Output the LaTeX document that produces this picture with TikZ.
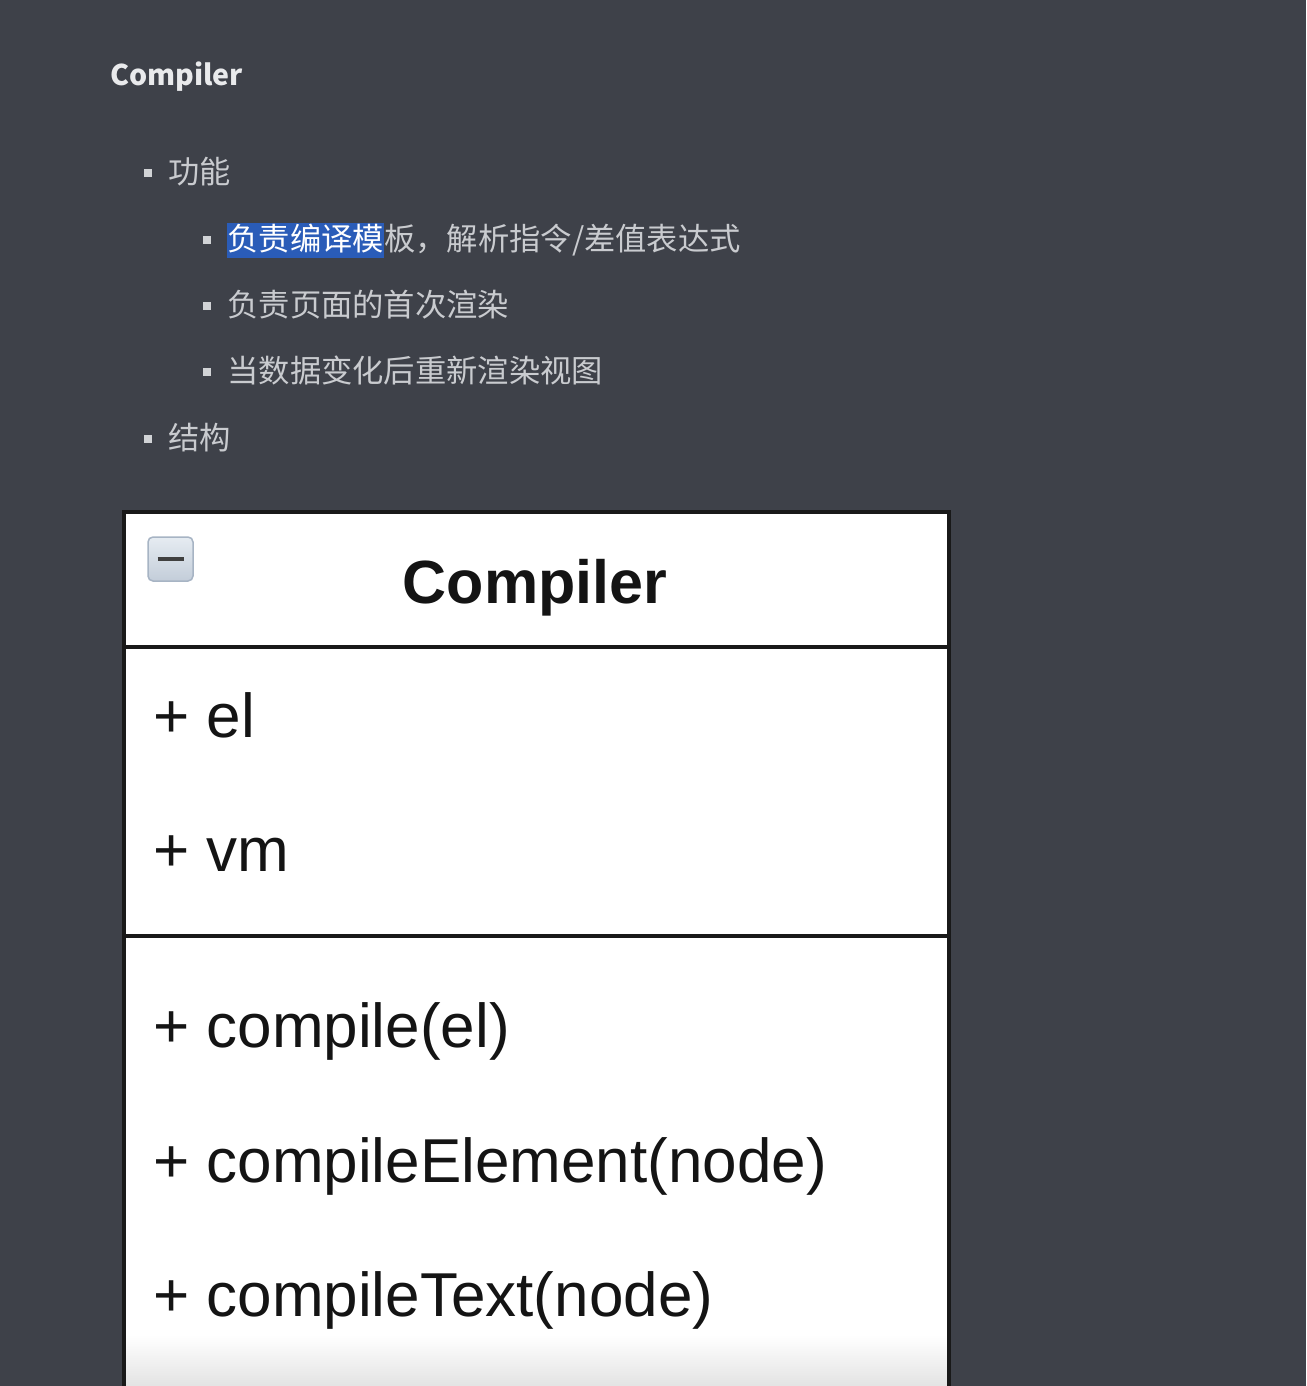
\documentclass[tikz,border=0pt]{standalone}
\usepackage{fontspec}
\setmainfont{Liberation Sans}
\newfontfamily\cjk{Noto Sans CJK SC}
\usetikzlibrary{positioning}
\definecolor{bgdark}{HTML}{3E4149}
\definecolor{textgray}{HTML}{C9CBCF}
\definecolor{titlegray}{HTML}{E8E9EB}
\definecolor{selblue}{HTML}{2A5CB8}
\definecolor{icontop}{HTML}{E6ECF2}
\definecolor{iconbot}{HTML}{C3CDD9}
\definecolor{iconedge}{HTML}{A7B4C4}
\tikzset{
  bulletsq/.style={fill=textgray!85, minimum size=8pt, inner sep=0pt},
  item/.style={font=\cjk\fontsize{31.3}{31.3}\selectfont, text=textgray, inner sep=0pt,
    text height=26pt, text depth=5pt},
  member/.style={font=\fontsize{62}{62}\selectfont, text=black!92, anchor=base west, inner sep=0pt},
  umlline/.style={line width=3.5pt, black!90},
}

\begin{document}
\begin{tikzpicture}[x=1pt,y=-1pt]
  \fill[bgdark] (0,0) rectangle (1306,1386);
  \useasboundingbox (0,0) rectangle (1306,1386);
  \clip (0,0) rectangle (1306,1386);

  % heading
  \node[font=\cjk\bfseries\fontsize{28.5}{28.5}\selectfont, text=titlegray!95, anchor=west, inner sep=0pt] (title) at (110,77) {Compiler};

  % list
  \node[bulletsq] (b1) at (148,173) {};
  \node[item, right=16pt of b1] (f1) {功能};
  \node[bulletsq] (b2) at (207,240) {};
  \node[item, fill=selblue, text=white, inner ysep=2pt, right=16pt of b2] (f2a) {负责编译模};
  \node[item, right=0pt of f2a] (f2b) {板，解析指令/差值表达式};
  \node[bulletsq] (b3) at (207,306) {};
  \node[item, right=16pt of b3] (f3) {负责页面的首次渲染};
  \node[bulletsq] (b4) at (207,372) {};
  \node[item, right=16pt of b4] (f4) {当数据变化后重新渲染视图};
  \node[bulletsq] (b5) at (148,439) {};
  \node[item, right=16pt of b5] (f5) {结构};

  % class box
  \fill[white] (124,512) rectangle (949,1335);
  \shade[top color=white, bottom color=black!11] (124,1335) rectangle (949,1386);
  \draw[umlline] (124,1420) -- (124,512) -- (949,512) -- (949,1420);
  \draw[umlline] (124,647) -- (949,647);
  \draw[umlline] (124,936) -- (949,936);

  \node[draw=iconedge, line width=1.5pt, rounded corners=5pt, top color=icontop, bottom color=iconbot,
    minimum width=45pt, minimum height=44pt] (icon) at (170.5,559) {};
  \draw[line width=4.5pt, black!75] ([xshift=-13pt]icon.center) -- ([xshift=13pt]icon.center);

  \node[member, font=\bfseries\fontsize{61}{61}\selectfont, anchor=base] (hdr) at (535,603) {Compiler};
  \node[member] (attEl) at (153,737) {+ el};
  \node[member] (attVm) at (153,871) {+ vm};
  \node[member] (mCompile) at (153,1047) {+ compile(el)};
  \node[member] (mElement) at (153,1182) {+ compileElement(node)};
  \node[member] (mText) at (153,1316) {+ compileText(node)};
\end{tikzpicture}
\end{document}
